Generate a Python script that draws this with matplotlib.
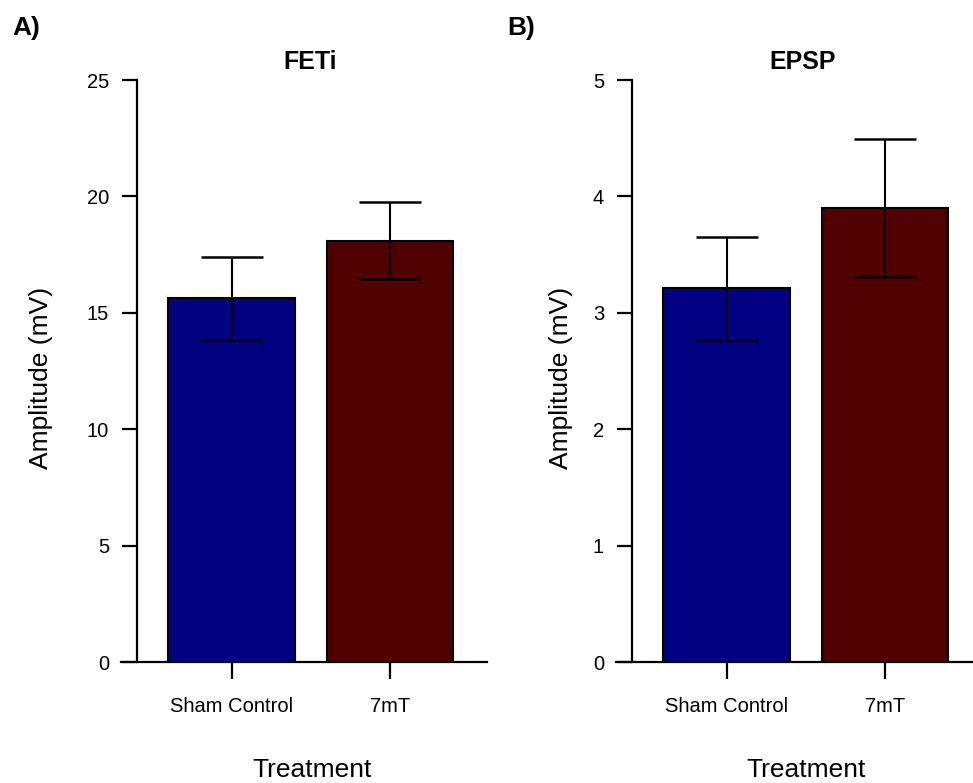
import numpy as np
import matplotlib
matplotlib.use('Agg')
from matplotlib import pyplot as plt

plt.rcParams['font.family'] = ['Liberation Sans', 'DejaVu Sans']

groups = ['Sham Control', '7mT']
bar_colors = ['#000080', '#500000']

feti_mean = [15.62, 18.10]
feti_err = [1.78, 1.65]
epsp_mean = [3.21, 3.90]
epsp_err = [0.445, 0.59]

feti_ticks = [0, 5, 10, 15, 20, 25]
epsp_ticks = [0, 1, 2, 3, 4, 5]

fig = plt.figure(figsize=(9.73, 7.83), dpi=100)

W, H = 973, 783


def panel(left_px, means, errs, ticks, title, ylab_x, title_x, xlab_x):
    ax = fig.add_axes([left_px / W, (H - 662) / H, 366 / W, 582 / H])
    x = np.arange(len(groups))
    ax.bar(x, means, width=0.8, color=bar_colors, edgecolor='black', linewidth=1.5, zorder=2)
    ax.errorbar(x, means, yerr=errs, fmt='none', ecolor='black', elinewidth=1.5,
                capsize=22.5, capthick=1.8, zorder=3)
    ax.set_xlim(-0.70, 1.614)
    ax.set_ylim(ticks[0], ticks[-1])
    ax.spines['top'].set_visible(False)
    ax.spines['right'].set_visible(False)
    ax.spines['left'].set_position(('data', -0.60))
    ax.spines['left'].set_linewidth(1.6)
    ax.spines['bottom'].set_linewidth(1.6)
    ax.set_yticks(ticks)
    ax.set_xticks(x)
    ax.set_xticklabels(groups)
    ax.tick_params(axis='y', length=11, width=1.6, pad=9, labelsize=14.5)
    ax.tick_params(axis='x', length=12, width=1.6, pad=13, labelsize=14.5)
    ax.set_title(title, fontsize=18, fontweight='bold', x=title_x, pad=8)
    ax.set_ylabel('Amplitude (mV)', fontsize=19)
    ax.yaxis.set_label_coords(ylab_x, 0.488)
    ax.set_xlabel('Treatment', fontsize=19, va='top')
    ax.xaxis.set_label_coords(xlab_x, -0.165)
    return ax


panel(121, feti_mean, feti_err, feti_ticks, 'FETi', -0.186, 0.516, 0.522)
panel(616, epsp_mean, epsp_err, epsp_ticks, 'EPSP', -0.117, 0.511, 0.519)

fig.text(12 / W, 1 - 16 / H, 'A)', fontsize=19, fontweight='bold', ha='left', va='top')
fig.text(507 / W, 1 - 16 / H, 'B)', fontsize=19, fontweight='bold', ha='left', va='top')

fig.savefig('out.png', dpi=100)
